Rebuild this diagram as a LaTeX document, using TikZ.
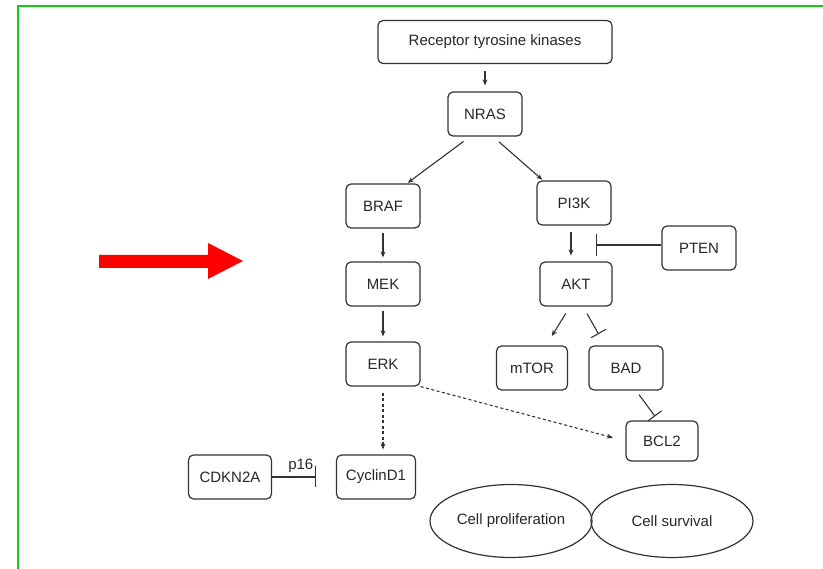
\documentclass[tikz,border=0pt]{standalone}
\usepackage{fontspec}
\setmainfont{Liberation Sans}
\usetikzlibrary{arrows.meta,shapes.geometric}
\definecolor{framegreen}{RGB}{20,200,20}
\definecolor{linegray}{RGB}{50,50,50}

\begin{document}
\begin{tikzpicture}[x=1pt,y=-1pt,
  gene/.style={draw=linegray,line width=1.2pt,rounded corners=5pt,minimum width=74pt,minimum height=44pt,inner sep=0pt,font=\fontsize{15}{17}\selectfont,text=black!85},
  outcome/.style={ellipse,draw=linegray,line width=1.2pt,minimum width=162pt,minimum height=73pt,inner sep=0pt,font=\fontsize{15}{17}\selectfont,text=black!85},
  act/.style={draw=linegray,line width=1.1pt,-{Stealth[length=6pt,width=5pt]}},
  inh/.style={draw=linegray,line width=1.1pt,-{Bar[width=21pt]}},
  dashact/.style={act,dash pattern=on 3pt off 2.5pt}]
\useasboundingbox (0,0) rectangle (823,569);

% frame and pointer
\draw[framegreen,line width=2pt] (18,569) -- (18,6) -- (823,6);
\fill[red] (99,255) -- (208,255) -- (208,243) -- (243,261) -- (208,279) -- (208,268) -- (99,268) -- cycle;

% boxes
\node[gene,minimum width=234pt,minimum height=43pt] (rtk) at (495,42) {Receptor tyrosine kinases};
\node[gene] (nras) at (485,114) {NRAS};
\node[gene] (braf) at (383,206) {BRAF};
\node[gene] (pi3k) at (574,203) {PI3K};
\node[gene] (mek) at (383,284) {MEK};
\node[gene,minimum width=72pt] (akt) at (576,284) {AKT};
\node[gene] (pten) at (699,248) {PTEN};
\node[gene] (erk) at (383,364) {ERK};
\node[gene,minimum width=71pt] (mtor) at (532,368) {mTOR};
\node[gene] (bad) at (626,368) {BAD};
\node[gene,minimum width=72pt,minimum height=40pt] (bcl2) at (662,441) {BCL2};
\node[gene,minimum width=79pt] (cycd1) at (376,477) {CyclinD1};
\node[gene,minimum width=83pt] (cdkn2a) at (230,477) {CDKN2A};
\node[outcome] (prolif) at (511,521) {Cell proliferation};
\node[outcome] (surv) at (672,521) {Cell survival};

% MAPK branch
\draw[act,shorten <=7pt,shorten >=6pt] (rtk.south -| nras) -- (nras.north);
\draw[act,shorten <=8pt,shorten >=1pt] ([xshift=-15pt]nras.south) -- ([xshift=24pt]braf.north);
\draw[act,shorten <=4pt,shorten >=4pt] (braf) -- (mek);
\draw[act,shorten <=4pt,shorten >=5pt] (mek) -- (erk);
\draw[dashact,shorten <=6pt,shorten >=5pt] (erk.south) -- (erk.south |- cycd1.north);
\draw[dashact,shorten >=13pt] (erk.south east) -- (bcl2.west);
\draw[inh,shorten >=20pt] (cdkn2a.east) -- node[pos=0.45,above=1pt,font=\fontsize{15}{17}\selectfont,text=black!85] {p16} (cycd1.west);

% PI3K branch
\draw[act,shorten <=8pt,shorten >=1pt] ([xshift=8pt]nras.south) -- ([xshift=-31pt]pi3k.north);
\draw[act,shorten <=6pt,shorten >=6pt] ([xshift=-3pt]pi3k.south) -- ([xshift=-5pt]akt.north);
\coordinate (aktblock) at (596,245);
\draw[inh,-{Bar[width=22pt]}] (pten.west |- aktblock) -- (aktblock);
\draw[act,shorten <=8pt,shorten >=11pt] ([xshift=-6pt]akt.south) -- ([xshift=14pt]mtor.north);
\draw[inh,-{Bar[width=17pt]},shorten <=8pt,shorten >=13pt] ([xshift=7pt]akt.south) -- ([xshift=-21pt]bad.north);
\draw[inh,-{Bar[width=17pt]},shorten <=5pt,shorten >=5pt] ([xshift=10pt]bad.south) -- ([xshift=-4pt]bcl2.north);
\end{tikzpicture}
\end{document}
